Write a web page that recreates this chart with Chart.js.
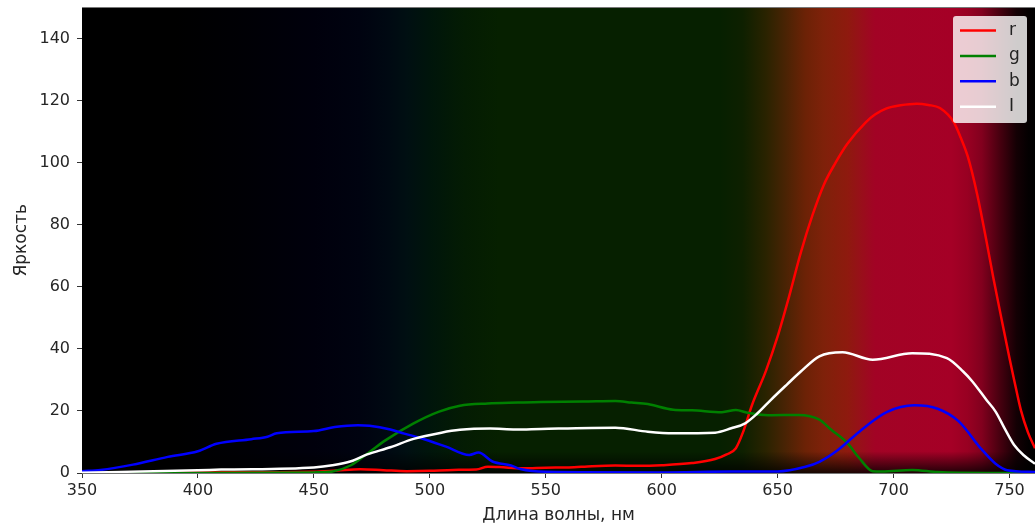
<!DOCTYPE html>
<html>
<head>
<meta charset="utf-8">
<title>Спектр</title>
<script src="https://cdn.jsdelivr.net/npm/chart.js@4"></script>
<style>
    html, body { margin: 0; padding: 0; background: #fff; }
    canvas { display: block; filter: blur(0.4px); }
</style>
</head>
<body>
<canvas id="spectrum" width="1035" height="526"></canvas>
<script>
// Values: wavelength in nm, brightness in counts
const xTicks = [350, 400, 450, 500, 550, 600, 650, 700, 750];
const yTicks = [0, 20, 40, 60, 80, 100, 120, 140];

const redNm = [350, 400, 450, 460, 470, 480, 490, 500, 510, 520, 525, 530, 540, 550, 560, 570, 580, 590, 600, 613, 623, 628, 632, 635, 639, 645, 650, 655, 660, 665, 670, 675, 680, 688, 692, 697, 703, 710, 715, 720, 726, 729, 732, 736, 740, 743, 747, 750, 752, 755, 758, 761];
const redVals = [0, 0.2, 0.4, 0.8, 1.2, 0.9, 0.6, 0.7, 1, 1.1, 2, 1.9, 1.5, 1.7, 1.8, 2.2, 2.4, 2.3, 2.5, 3.2, 4.5, 6, 8, 13, 22, 33, 44, 57, 71, 83, 93, 100, 106, 113, 115.5, 117.5, 118.5, 119, 118.6, 117.6, 113, 108, 102, 90, 75, 63, 48, 37, 30, 20, 13, 8];

const greenNm = [350, 400, 450, 458, 466, 474, 481, 493, 504, 513, 525, 538, 548, 566, 580, 587, 594, 605, 613, 626, 632, 637, 646, 659, 668, 673, 680, 685, 691, 695, 708, 719, 740, 761];
const greenVals = [0, 0, 0.2, 0.5, 2.5, 6.8, 10.6, 16, 19.8, 21.7, 22.4, 22.7, 22.9, 23, 23.2, 22.7, 22.2, 20.4, 20.2, 19.6, 20.3, 19.4, 18.6, 18.7, 17.2, 14, 9.7, 5, 0.6, 0.5, 1, 0.3, 0, 0];

const blueNm = [350, 358, 372, 387, 400, 408, 423, 430, 434, 450, 459, 469, 474, 483, 489, 496, 507, 517, 521, 527, 535, 539, 550, 600, 630, 650, 662, 668, 676, 686, 697, 709, 719, 728, 738, 744, 749, 761];
const blueVals = [0.6, 1, 2.7, 5.2, 7, 9.4, 10.9, 11.7, 12.8, 13.5, 14.8, 15.4, 15.2, 14, 12.7, 11.3, 8.5, 5.8, 6.6, 3.7, 2.4, 1.3, 0.4, 0.2, 0.5, 0.5, 2, 3.6, 7.4, 13.8, 19.6, 21.8, 20.7, 16.7, 7.6, 3, 0.9, 0.3];

const whiteNm = [350, 400, 410, 450, 458, 466, 473, 483, 493, 505, 513, 526, 537, 548, 580, 594, 605, 623, 630, 636, 641, 647, 654, 660, 668, 678, 691, 708, 723, 730, 734, 740, 744, 748, 752, 756, 761];
const whiteVals = [0.1, 0.9, 1.1, 1.8, 2.5, 3.8, 6, 8.3, 11, 13, 13.9, 14.3, 14, 14.2, 14.6, 13.3, 12.8, 13, 14.4, 16, 19, 23.5, 28.5, 32.7, 37.6, 38.9, 36.5, 38.6, 37, 32.7, 29.5, 23.6, 19.8, 14.2, 9, 5.8, 3];

// Colour of the spectrum photo behind the curves
const backNm = [350, 390, 420, 450, 470, 482, 490, 500, 515, 530, 625, 635, 645, 653, 662, 670, 680, 686, 692, 725, 732, 738, 746, 753, 758, 761];
const backColors = ["#000000", "#000000", "#000005", "#00000c", "#000310", "#000912", "#000f12", "#00150b", "#041c03", "#062000", "#062000", "#0e2000", "#2a2300", "#482304", "#6c2206", "#7f210a", "#8e1a0e", "#980f1a", "#a20325", "#a50026", "#980022", "#82001e", "#46000f", "#140004", "#040001", "#000000"];

function toXY(nm, vals) {
    return nm.map((v, i) => ({ x: v, y: vals[i] }));
}

function makeSeries(label, color, nm, vals, order) {
    return {
        label: label,
        data: toXY(nm, vals),
        borderColor: color,
        backgroundColor: color,
        borderWidth: 2.5,
        pointRadius: 0,
        cubicInterpolationMode: "monotone",
        order: order
    };
}

// Spectrum goes under the curves, its dark bottom rows included
const spectrumBack = {
    id: "spectrumBack",
    beforeDatasetsDraw(chart) {
        const { ctx, chartArea, scales } = chart;
        const w = chartArea.right - chartArea.left;
        const grad = ctx.createLinearGradient(chartArea.left, 0, chartArea.right, 0);
        backNm.forEach((nm, i) => {
            const stop = (scales.x.getPixelForValue(nm) - chartArea.left) / w;
            grad.addColorStop(Math.min(1, Math.max(0, stop)), backColors[i]);
        });
        ctx.save();
        ctx.fillStyle = grad;
        ctx.fillRect(chartArea.left, chartArea.top, w, chartArea.bottom - chartArea.top);

        const bandTop = scales.y.getPixelForValue(7);
        const shade = ctx.createLinearGradient(0, bandTop, 0, chartArea.bottom);
        shade.addColorStop(0, "rgba(0,0,0,0)");
        shade.addColorStop(1, "rgba(0,0,0,0.8)");
        ctx.fillStyle = shade;
        ctx.fillRect(chartArea.left, bandTop, w, chartArea.bottom - bandTop);
        ctx.restore();
    }
};

// Legend sits inside the plot at the top right, as in matplotlib
const cornerLegend = {
    id: "cornerLegend",
    afterDraw(chart) {
        const { ctx, chartArea } = chart;
        const boxX = 953, boxY = 16, boxW = 74, boxH = 107;
        ctx.save();
        ctx.strokeStyle = "#777";
        ctx.lineWidth = 1;
        ctx.beginPath();
        ctx.moveTo(chartArea.left, chartArea.top);
        ctx.lineTo(chartArea.right, chartArea.top);
        ctx.stroke();

        ctx.fillStyle = "rgba(255,255,255,0.8)";
        ctx.beginPath();
        ctx.roundRect(boxX, boxY, boxW, boxH, 3);
        ctx.fill();

        ctx.font = "17px 'DejaVu Sans'";
        ctx.textBaseline = "middle";
        chart.data.datasets.forEach((ds, i) => {
            const y = boxY + 14.5 + i * 25.4;
            ctx.strokeStyle = ds.borderColor;
            ctx.lineWidth = 2.5;
            ctx.beginPath();
            ctx.moveTo(960, y);
            ctx.lineTo(996, y);
            ctx.stroke();
            ctx.fillStyle = "#222";
            ctx.fillText(ds.label, 1009, y);
        });
        ctx.restore();
    }
};

function axisOptions(min, max, tickValues, titleText, titlePadding, thickness, tickPadding) {
    return {
        type: "linear",
        min: min,
        max: max,
        afterBuildTicks(scale) {
            scale.ticks = tickValues.map(v => ({ value: v }));
        },
        afterFit(scale) {
            if (scale.isHorizontal()) {
                scale.height = thickness;
            } else {
                scale.width = thickness;
            }
            scale.paddingTop = 0;
            scale.paddingBottom = 0;
            scale.paddingRight = 0;
        },
        border: { color: "#777", width: 1 },
        grid: { drawOnChartArea: false, drawTicks: true, tickLength: 5, tickColor: "#333" },
        ticks: {
            color: "#262626",
            padding: tickPadding,
            maxRotation: 0,
            autoSkip: false,
            font: { family: "DejaVu Sans", size: 16 }
        },
        title: {
            display: true,
            text: titleText,
            color: "#262626",
            padding: titlePadding,
            font: { family: "DejaVu Sans", size: 17 }
        }
    };
}

new Chart(document.getElementById("spectrum").getContext("2d"), {
    type: "line",
    data: {
        datasets: [
            makeSeries("r", "#ff0000", redNm, redVals, 3),
            makeSeries("g", "#008000", greenNm, greenVals, 2),
            makeSeries("b", "#0000ff", blueNm, blueVals, 1),
            makeSeries("I", "#ffffff", whiteNm, whiteVals, 0)
        ]
    },
    options: {
        responsive: false,
        animation: false,
        devicePixelRatio: 1,
        layout: { padding: { top: 7.5, right: 0, left: 0, bottom: 0 } },
        plugins: { legend: { display: false }, tooltip: { enabled: false } },
        scales: {
            x: axisOptions(350, 761, xTicks, "Длина волны, нм", { top: 0, bottom: 0 }, 53, 3),
            y: axisOptions(0, 150, yTicks, "Яркость", { top: 11, bottom: 0 }, 82, 7)
        }
    },
    plugins: [spectrumBack, cornerLegend]
});
</script>
</body>
</html>
